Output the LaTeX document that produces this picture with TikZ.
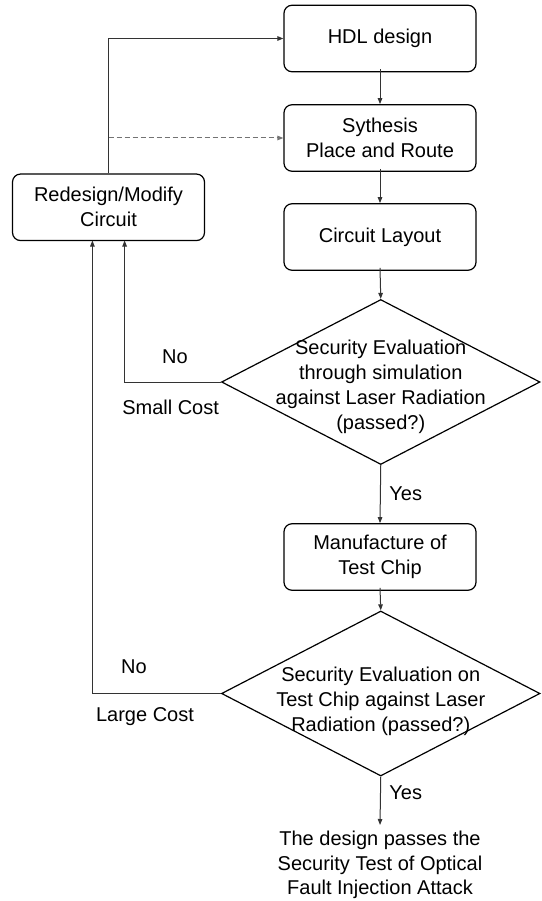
\documentclass[tikz,border=0pt]{standalone}
\usepackage{fontspec}
\setmainfont{Liberation Sans}
\usetikzlibrary{arrows.meta,shapes.geometric}
\begin{document}
\begin{tikzpicture}[x=1pt,y=-1pt,
  font=\fontsize{20}{25}\selectfont,
  box/.style={draw=black,line width=1.2pt,rounded corners=8pt,minimum width=192pt,minimum height=66.5pt,inner sep=0pt,align=center},
  dia/.style={draw=black,line width=1.2pt,shape=diamond,minimum width=318.5pt,minimum height=165pt,inner sep=0pt},
  txt/.style={align=center,inner sep=0pt},
  conn/.style={draw=black!80,line width=1pt,-{Triangle[length=6pt,width=4.5pt]}},
  dconn/.style={conn,draw=black!55,dash pattern=on 5pt off 3pt}]
\useasboundingbox (0,0) rectangle (541,901);
\node[box] (hdl) at (380,38.5) {HDL design};
\node[box] (syn) at (380,138) {Sythesis\\Place and Route};
\node[box] (lay) at (380,237) {Circuit Layout};
\node[box] (red) at (108.5,207.3) {Redesign/Modify\\Circuit};
\node[dia] (d1) at (380.75,382) {};
\node[txt] (d1t) at (380.75,386.5) {Security Evaluation\\through simulation\\against Laser Radiation\\(passed?)};
\node[box] (man) at (380,557) {Manufacture of\\Test Chip};
\node[dia] (d2) at (380.75,693.5) {};
\node[txt] (d2t) at (380.75,701) {Security Evaluation on\\Test Chip against Laser\\Radiation (passed?)};
\coordinate (fin) at (380,825);
\node[txt,anchor=north,font=\fontsize{20}{24.5}\selectfont] (res) at (380,831) {The design passes the\\Security Test of Optical\\Fault Injection Attack};
\node[txt] (no1) at (175,357) {No};
\node[txt] (sc) at (170.6,407) {Small Cost};
\node[txt] (no2) at (134,667) {No};
\node[txt] (lc) at (145,716.6) {Large Cost};
\node[txt] (y1) at (405.7,493.6) {Yes};
\node[txt] (y2) at (405.7,792.8) {Yes};
\draw[conn] ([yshift=3pt]hdl.south) -- (syn.north);
\draw[conn] ([yshift=3pt]syn.south) -- (lay.north);
\draw[conn] ([yshift=3pt]lay.south) -- (d1.north);
\draw[conn] (d1.south) -- (man.north);
\draw[conn] ([yshift=3pt]man.south) -- (d2.north);
\draw[conn] (d2.south) -- (fin);
\draw[conn] (red.north) -- (red.north |- hdl.west) -- (hdl.west);
\draw[dconn] (red.north |- syn.west) -- (syn.west);
\draw[conn] (d1.west) -- (124.6,382) -- (124.6,240.5);
\draw[conn] (d2.west) -- (92.4,693.5) -- (92.4,240.5);
\end{tikzpicture}
\end{document}
